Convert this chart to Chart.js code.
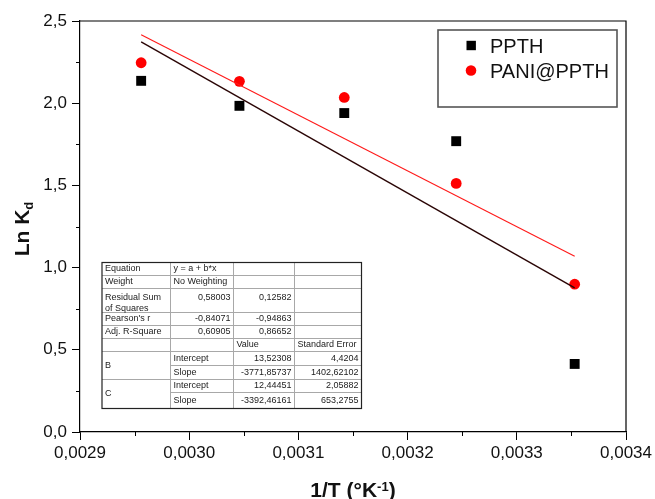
<!DOCTYPE html>
<html>
<head>
<meta charset="utf-8">
<script src="https://cdn.jsdelivr.net/npm/chart.js@4/dist/chart.umd.min.js"></script>
<style>
  html, body { margin: 0; padding: 0; background: #fff; }
  #wrap { width: 655px; height: 499px; position: relative; }
</style>
</head>
<body>
<div id="wrap"><canvas id="chart" width="655" height="499"></canvas></div>
<script>
// 1/T values (K^-1)
const invT = [0.002956, 0.003046, 0.003142, 0.0032445, 0.003353];
// ln Kd measured for each adsorbent
const lnKdPPTH = [2.136, 1.984, 1.940, 1.769, 0.414];
const lnKdPANI = [2.246, 2.133, 2.035, 1.512, 0.899];
const seriesNames = ['PPTH', 'PANI@PPTH'];

// Linear fit results y = a + b*x (B: PPTH, C: PANI@PPTH)
const fitNames = ['B', 'C'];
const fitIntercepts = [13.52308, 12.44451];
const fitInterceptErrs = [4.4204, 2.05882];
const fitSlopes = [-3771.85737, -3392.46161];
const fitSlopeErrs = [1402.62102, 653.2755];
const fitRSS = ['0,58003', '0,12582'];
const fitPearson = ['-0,84071', '-0,94863'];
const fitAdjR2 = ['0,60905', '0,86652'];

const xTicks = [0.0029, 0.0030, 0.0031, 0.0032, 0.0033, 0.0034];
const yTicks = [0, 0.5, 1.0, 1.5, 2.0, 2.5];

const comma = v => String(v).replace('.', ',');
const fitLine = i => [invT[0], invT[invT.length - 1]].map(x => ({ x, y: fitIntercepts[i] + fitSlopes[i] * x }));

const FONT = '"Liberation Sans", Arial, sans-serif';

// Rows of the fit report table
const statRows = [
  ['Equation', 'y = a + b*x', '', ''],
  ['Weight', 'No Weighting', '', ''],
  ['Residual Sum\nof Squares', fitRSS[0], fitRSS[1], ''],
  ["Pearson's r", fitPearson[0], fitPearson[1], ''],
  ['Adj. R-Square', fitAdjR2[0], fitAdjR2[1], ''],
  ['', '', 'Value', 'Standard Error']
];
const paramRows = [];
fitNames.forEach((n, i) => {
  paramRows.push([n, 'Intercept', comma(fitIntercepts[i]), comma(fitInterceptErrs[i])]);
  paramRows.push([n, 'Slope', comma(fitSlopes[i]), comma(fitSlopeErrs[i])]);
});

const framePlugin = {
  id: 'frame',
  afterDraw(chart) {
    const { ctx, chartArea: a, scales } = chart;
    ctx.save();
    ctx.strokeStyle = '#000';
    ctx.lineWidth = 1.2;
    ctx.beginPath();
    ctx.moveTo(a.left, a.top); ctx.lineTo(a.right, a.top); ctx.lineTo(a.right, a.bottom);
    ctx.stroke();
    // minor ticks
    ctx.lineWidth = 1;
    ctx.beginPath();
    for (let i = 0; i < xTicks.length - 1; i++) {
      const px = Math.round(scales.x.getPixelForValue((xTicks[i] + xTicks[i + 1]) / 2)) + 0.5;
      ctx.moveTo(px, a.bottom); ctx.lineTo(px, a.bottom + 4);
    }
    for (let i = 0; i < yTicks.length - 1; i++) {
      const py = Math.round(scales.y.getPixelForValue((yTicks[i] + yTicks[i + 1]) / 2)) + 0.5;
      ctx.moveTo(a.left, py); ctx.lineTo(a.left - 4, py);
    }
    ctx.stroke();
    ctx.restore();
  }
};

const legendPlugin = {
  id: 'boxLegend',
  afterDraw(chart) {
    const { ctx } = chart;
    const x0 = 438, y0 = 30, w = 179, h = 77;
    ctx.save();
    ctx.fillStyle = '#fff';
    ctx.fillRect(x0, y0, w, h);
    ctx.strokeStyle = '#555';
    ctx.lineWidth = 1.6;
    ctx.strokeRect(x0, y0, w, h);
    ctx.font = '20px ' + FONT;
    ctx.textBaseline = 'alphabetic';
    ctx.textAlign = 'left';
    seriesNames.forEach((name, i) => {
      const ds = chart.data.datasets[i];
      const cy = y0 + 15.5 + i * 25;
      ctx.fillStyle = ds.backgroundColor;
      if (ds.pointStyle === 'rect') {
        ctx.fillRect(x0 + 28.5, cy - 4.7, 9.4, 9.4);
      } else {
        ctx.beginPath(); ctx.arc(x0 + 33, cy, 5.3, 0, Math.PI * 2); ctx.fill();
      }
      ctx.fillStyle = '#111';
      ctx.fillText(name, x0 + 52, cy + 7);
    });
    ctx.restore();
  }
};

const tablePlugin = {
  id: 'fitTable',
  afterDraw(chart) {
    const { ctx } = chart;
    const colX = [102, 170.5, 233.5, 294.5, 361.5];
    const rowY = [262.5, 275.5, 288.5, 312.5, 325.5, 338.5, 351.5, 365.5, 379.5, 392.5, 408.5];
    ctx.save();
    ctx.fillStyle = '#fff';
    ctx.fillRect(colX[0], rowY[0], colX[4] - colX[0], rowY[10] - rowY[0]);
    ctx.strokeStyle = '#a8a8a8';
    ctx.lineWidth = 1;
    ctx.beginPath();
    for (let i = 1; i < rowY.length - 1; i++) {
      const startX = (i === 7 || i === 9) ? colX[1] : colX[0];
      ctx.moveTo(startX, rowY[i]); ctx.lineTo(colX[4], rowY[i]);
    }
    for (let j = 1; j < colX.length - 1; j++) {
      ctx.moveTo(colX[j], rowY[0]); ctx.lineTo(colX[j], rowY[10]);
    }
    ctx.stroke();
    ctx.strokeStyle = '#222';
    ctx.lineWidth = 1.2;
    ctx.strokeRect(colX[0], rowY[0], colX[4] - colX[0], rowY[10] - rowY[0]);

    ctx.font = '9px ' + FONT;
    ctx.fillStyle = '#222';
    ctx.textBaseline = 'middle';
    const isNum = s => /^-?\d/.test(s) && s.indexOf('=') < 0;
    const cell = (text, c, cy) => {
      if (!text) return;
      if (isNum(text)) {
        ctx.textAlign = 'right';
        ctx.fillText(text, colX[c + 1] - 3, cy);
      } else {
        ctx.textAlign = 'left';
        ctx.fillText(text, colX[c] + 3, cy);
      }
    };
    statRows.forEach((row, r) => {
      const top = rowY[r], bot = rowY[r + 1];
      row.forEach((text, c) => {
        const lines = text.split('\n');
        if (bot - top > 20) {
          lines.forEach((ln, k) => cell(ln, c, top + 9 + k * 11));
        } else {
          cell(text, c, (top + bot) / 2);
        }
      });
    });
    paramRows.forEach((row, r) => {
      const top = rowY[6 + r], bot = rowY[7 + r];
      row.forEach((text, c) => {
        if (c === 0) {
          if (r % 2 === 0) cell(text, 0, (top + rowY[8 + r]) / 2);
        } else {
          cell(text, c, (top + bot) / 2);
        }
      });
    });
    ctx.restore();
  }
};

const titlePlugin = {
  id: 'axisTitles',
  afterDraw(chart) {
    const { ctx } = chart;
    ctx.save();
    ctx.fillStyle = '#111';
    ctx.textBaseline = 'alphabetic';
    ctx.textAlign = 'left';
    // x title: 1/T (°K^-1)
    const big = 'bold 21px ' + FONT, small = 'bold 13px ' + FONT;
    ctx.font = big; const w1 = ctx.measureText('1/T (°K').width; const w3 = ctx.measureText(')').width;
    ctx.font = small; const w2 = ctx.measureText('-1').width;
    let x = 353 - (w1 + w2 + w3) / 2;
    const base = 497;
    ctx.font = big; ctx.fillText('1/T (°K', x, base); x += w1;
    ctx.font = small; ctx.fillText('-1', x, base - 6); x += w2;
    ctx.font = big; ctx.fillText(')', x, base);
    // y title: Ln K_d
    const yb = 'bold 21px ' + FONT, ys = 'bold 13px ' + FONT;
    ctx.translate(29, 229);
    ctx.rotate(-Math.PI / 2);
    ctx.font = yb; const v1 = ctx.measureText('Ln K').width;
    ctx.font = ys; const v2 = ctx.measureText('d').width;
    let t = -(v1 + v2) / 2;
    ctx.font = yb; ctx.fillText('Ln K', t, 0); t += v1;
    ctx.font = ys; ctx.fillText('d', t, 4);
    ctx.restore();
  }
};

new Chart(document.getElementById('chart'), {
  type: 'scatter',
  data: {
    datasets: [
      {
        label: seriesNames[0],
        data: invT.map((x, i) => ({ x, y: lnKdPPTH[i] })),
        pointStyle: 'rect', pointRadius: 7, pointHoverRadius: 7,
        backgroundColor: '#000', borderColor: '#000', borderWidth: 0, order: 1
      },
      {
        label: seriesNames[1],
        data: invT.map((x, i) => ({ x, y: lnKdPANI[i] })),
        pointStyle: 'circle', pointRadius: 5.4, pointHoverRadius: 5.4,
        backgroundColor: '#ff0000', borderColor: '#ff0000', borderWidth: 0, order: 1
      },
      {
        label: 'fit B',
        data: fitLine(0), showLine: true, pointRadius: 0,
        borderColor: '#2a0505', borderWidth: 1.4, order: 0
      },
      {
        label: 'fit C',
        data: fitLine(1), showLine: true, pointRadius: 0,
        borderColor: '#ff1a1a', borderWidth: 1.1, order: 0
      }
    ]
  },
  options: {
    responsive: false,
    animation: false,
    devicePixelRatio: 1,
    layout: { padding: { top: 21, right: 28, left: 0, bottom: 0 } },
    plugins: { legend: { display: false }, tooltip: { enabled: false } },
    scales: {
      x: {
        type: 'linear', min: 0.0029, max: 0.0034,
        afterBuildTicks: s => { s.ticks = xTicks.map(v => ({ value: v })); },
        afterFit: s => { s.height = 67; },
        grid: { drawOnChartArea: false, drawTicks: true, tickLength: 8, color: '#000', tickWidth: 1 },
        border: { display: true, color: '#000', width: 1.2 },
        ticks: {
          padding: 3, color: '#111', maxRotation: 0, autoSkip: false,
          font: { family: FONT, size: 17 },
          callback: v => v.toFixed(4).replace('.', ',')
        }
      },
      y: {
        type: 'linear', min: 0, max: 2.5,
        afterBuildTicks: s => { s.ticks = yTicks.map(v => ({ value: v })); },
        afterFit: s => { s.width = 80; },
        grid: { drawOnChartArea: false, drawTicks: true, tickLength: 8, color: '#000', tickWidth: 1 },
        border: { display: true, color: '#000', width: 1.2 },
        ticks: {
          padding: 5, color: '#111', autoSkip: false,
          font: { family: FONT, size: 17 },
          callback: v => v.toFixed(1).replace('.', ',')
        }
      }
    }
  },
  plugins: [framePlugin, tablePlugin, legendPlugin, titlePlugin]
});
</script>
</body>
</html>
